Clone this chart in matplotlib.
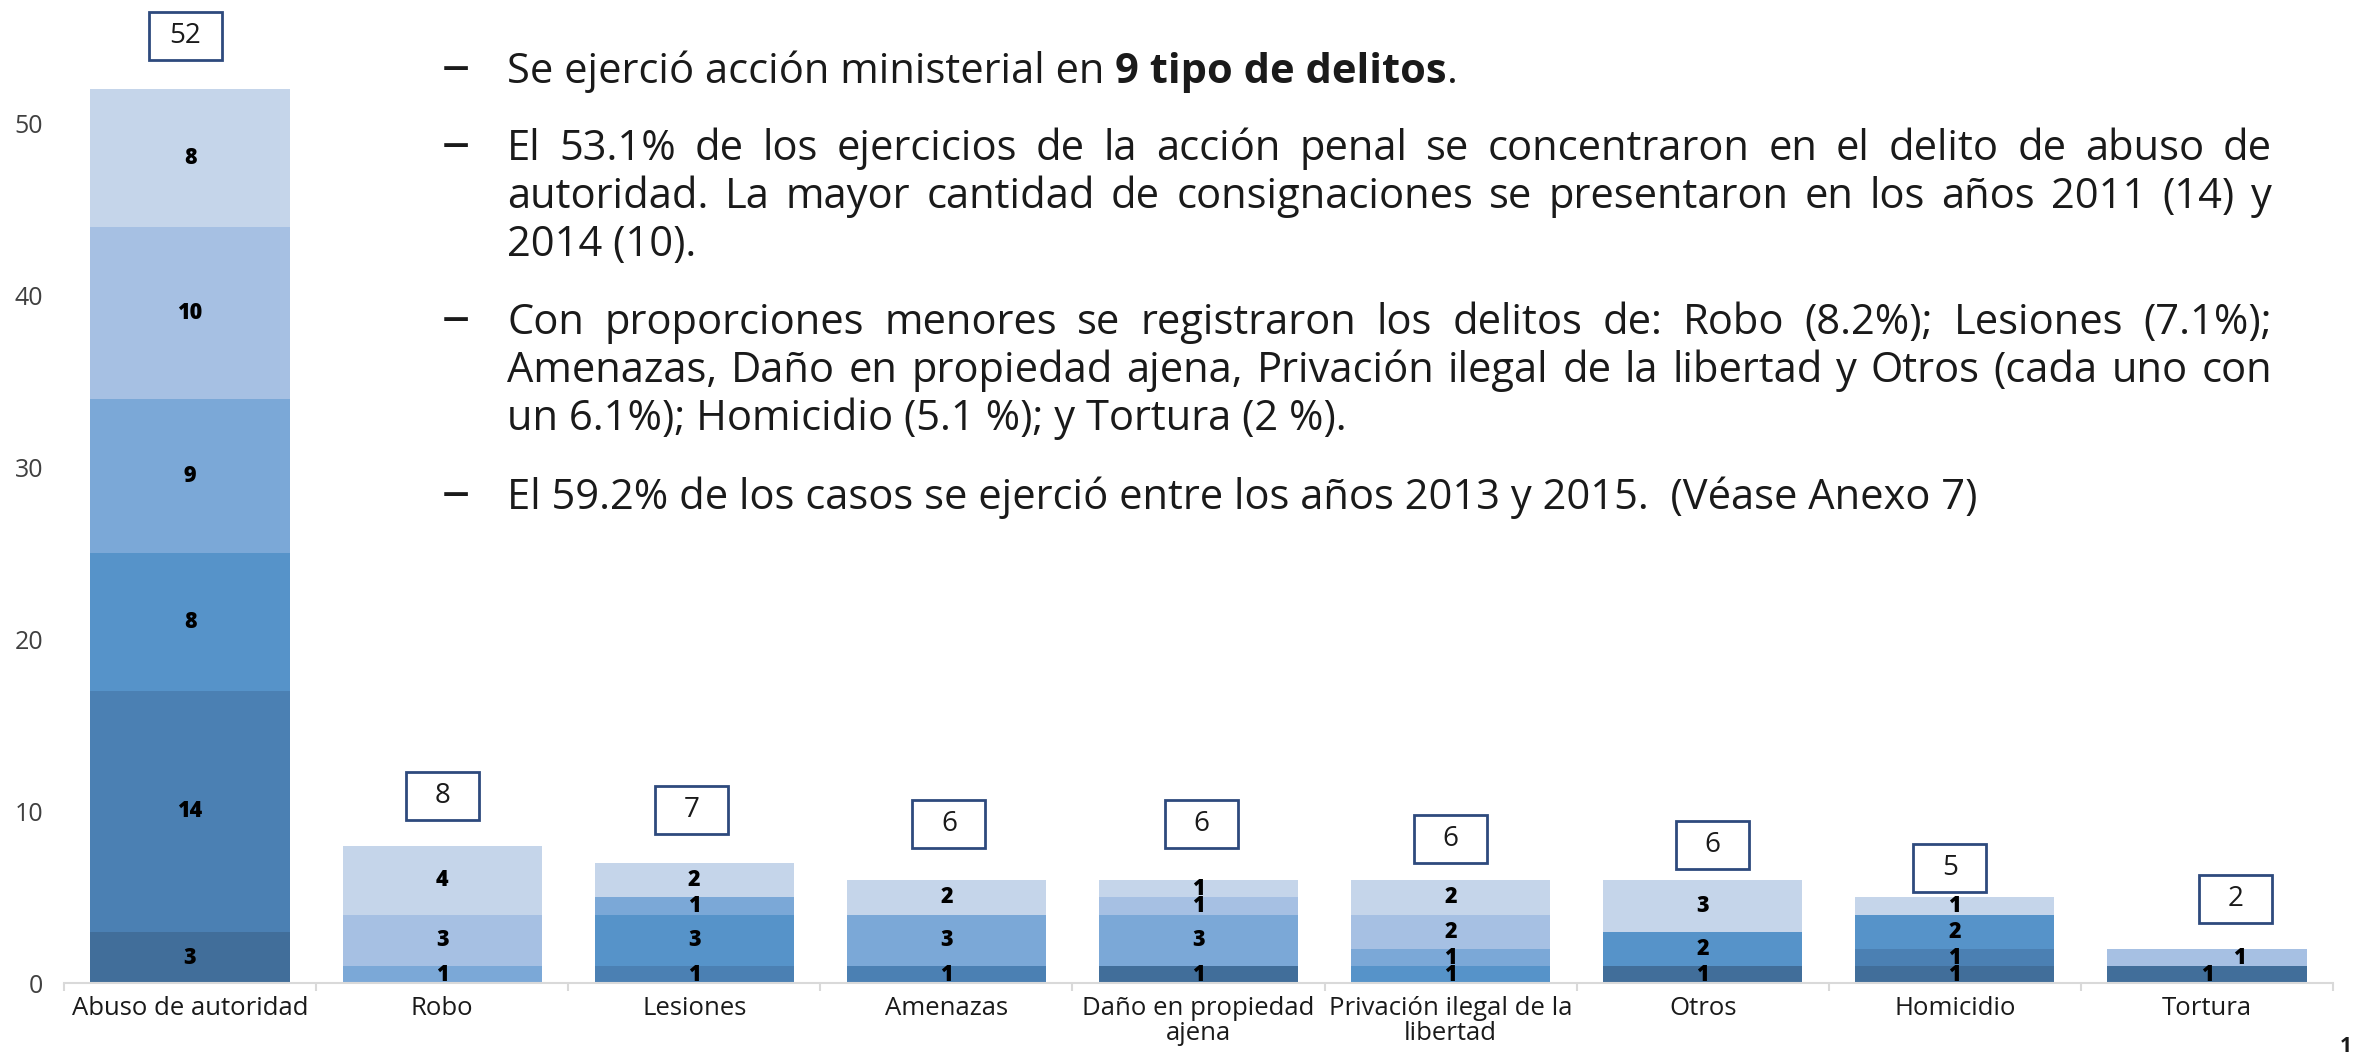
"""Stacked bars of ejercicios de la acción penal por delito y año, with side notes."""

import matplotlib

matplotlib.use("Agg")
import matplotlib.pyplot as plt
import matplotlib.transforms as mtransforms
from matplotlib.patches import Rectangle
from matplotlib.ticker import FixedLocator
import numpy as np

plt.rcParams["font.family"] = ["Open Sans", "DejaVu Sans"]

categories = [
    "Abuso de autoridad", "Robo", "Lesiones", "Amenazas",
    "Daño en propiedad\najena", "Privación ilegal de la\nlibertad",
    "Otros", "Homicidio", "Tortura",
]
years = ["2010", "2011", "2012", "2013", "2014", "2015"]
y2010 = [3, 0, 0, 0, 1, 0, 1, 1, 1]
y2011 = [14, 0, 1, 1, 0, 0, 0, 1, 0]
y2012 = [8, 0, 3, 0, 0, 1, 2, 2, 0]
y2013 = [9, 1, 1, 3, 3, 1, 0, 0, 0]
y2014 = [10, 3, 0, 0, 1, 2, 0, 0, 1]
y2015 = [8, 4, 2, 2, 1, 2, 3, 1, 0]
series = [y2010, y2011, y2012, y2013, y2014, y2015]
yticks = [0, 10, 20, 30, 40, 50]

# layout only: where Excel left the total boxes (dx, dy in data units)
box_dx = [-0.02, 0.0, -0.01, 0.01, 0.01, 0.0, 0.04, -0.02, 0.115]
box_dy = [3.06, 2.87, 3.1, 3.24, 3.24, 2.37, 2.02, 1.69, 2.88]
# one segment label that was dragged sideways (category, year index) -> dx
label_nudge = {(8, 4): 0.13}

colors = ["#416E9A", "#4B80B3", "#5693C9", "#7BA8D7", "#A6C0E3", "#C5D5EA"]
TEXT = "#1a1a1a"
GREY = "#404040"
NAVY = "#2E4A7D"

W, H = 2354, 1053
fig = plt.figure(figsize=(W / 100, H / 100), dpi=100)
ax = fig.add_axes([64 / W, 1 - 983.4 / H, (2333 - 64) / W, 983.4 / H])

x = np.arange(len(categories))
bottom = np.zeros(len(categories))
for yi, (vals, col) in enumerate(zip(series, colors)):
    vals = np.array(vals, dtype=float)
    ax.bar(x, vals, 0.79, bottom=bottom, color=col, linewidth=0)
    for xi, v, b in zip(x, vals, bottom):
        if v > 0:
            ax.text(xi + label_nudge.get((xi, yi), 0), b + v / 2, f"{int(v)}",
                    ha="center", va="center", fontsize=15.5,
                    fontweight="heavy", color="black")
    bottom += vals

totals = bottom
bw, bh = 0.73, 0.48  # box size in inches
for xi, tot, dx, dy in zip(x, totals, box_dx, box_dy):
    cx, cy = xi + dx, tot + dy
    tr = fig.dpi_scale_trans + mtransforms.ScaledTranslation(cx, cy, ax.transData)
    ax.add_patch(Rectangle((-bw / 2, -bh / 2), bw, bh, transform=tr,
                           facecolor="white", edgecolor=NAVY, linewidth=2,
                           clip_on=False, zorder=4))
    ax.text(cx, cy, f"{int(tot)}", ha="center", va="center", fontsize=20,
            color=TEXT, zorder=5)

ax.set_xlim(-0.5, len(categories) - 0.5)
ax.set_ylim(0, 983.4 / 17.2)
ax.set_xticks(x)
ax.set_xticklabels(categories, fontsize=18.5, color=TEXT, linespacing=0.98)
ax.xaxis.set_minor_locator(FixedLocator(np.arange(-0.5, len(categories), 1.0)))
ax.tick_params(axis="x", which="major", length=0, pad=9)
ax.tick_params(axis="x", which="minor", length=6, width=1.5, color="#D9D9D9")
ax.set_yticks(yticks)
ax.set_yticklabels([str(t) for t in yticks], fontsize=18, color=GREY)
ax.tick_params(axis="y", length=0, pad=15)
for side in ("top", "right", "left"):
    ax.spines[side].set_visible(False)
ax.spines["bottom"].set_color("#D9D9D9")
ax.spines["bottom"].set_linewidth(1.5)

# ---- notes on the right, justified like the slide ----
renderer = fig.canvas.get_renderer()
FS = 30
X0, X1, XB = 507, 2272, 442


def fig_text(px, py, s, size=FS, **kw):
    return fig.text(px / W, 1 - py / H, s, fontsize=size, color=TEXT,
                    va="baseline", ha="left", **kw)


def width_of(t):
    return t.get_window_extent(renderer).width


def space_width(weight="normal"):
    a = fig_text(0, 0, "n n", fontweight=weight)
    b = fig_text(0, 0, "nn", fontweight=weight)
    w = width_of(a) - width_of(b)
    a.remove()
    b.remove()
    return w


def line(py, s, justify=False):
    words = s.split()
    if not justify:
        fig_text(X0, py, s)
        return
    arts = [fig_text(0, py, w) for w in words]
    total = sum(width_of(a) for a in arts)
    gap = (X1 - X0 - total) / (len(arts) - 1)
    cur = X0
    for a in arts:
        a.set_x(cur / W)
        cur += width_of(a) + gap


def bullet(py):
    fig_text(XB, py, "–", size=FS * 1.35)


# bullet 1 with the bold run
bullet(83)
t1 = fig_text(X0, 83, "Se ejerció acción ministerial en")
cur = X0 + width_of(t1) + space_width()
t2 = fig_text(cur, 83, "9 tipo de delitos", fontweight="bold")
fig_text(cur + width_of(t2), 83, ".")

bullet(160)
line(160, "El 53.1% de los ejercicios de la acción penal se concentraron en el delito de  abuso de", True)
line(208, "autoridad. La mayor cantidad de consignaciones se presentaron en los años 2011 (14) y", True)
line(256, "2014 (10).")

bullet(334)
line(334, "Con proporciones menores se registraron los delitos de: Robo (8.2%); Lesiones (7.1%);", True)
line(382, "Amenazas, Daño en propiedad ajena, Privación ilegal de la libertad y Otros (cada uno con", True)
line(430, "un 6.1%); Homicidio (5.1 %); y Tortura (2 %).")

bullet(509)
line(509, "El 59.2% de los casos se ejerció entre los años 2013 y 2015.  (Véase Anexo 7)")

fig.text(2340 / W, 1 - 1046 / H, "1", fontsize=15, fontweight="bold",
         color=TEXT, ha="left", va="center")

fig.savefig("out.png", dpi=100)
plt.close(fig)
